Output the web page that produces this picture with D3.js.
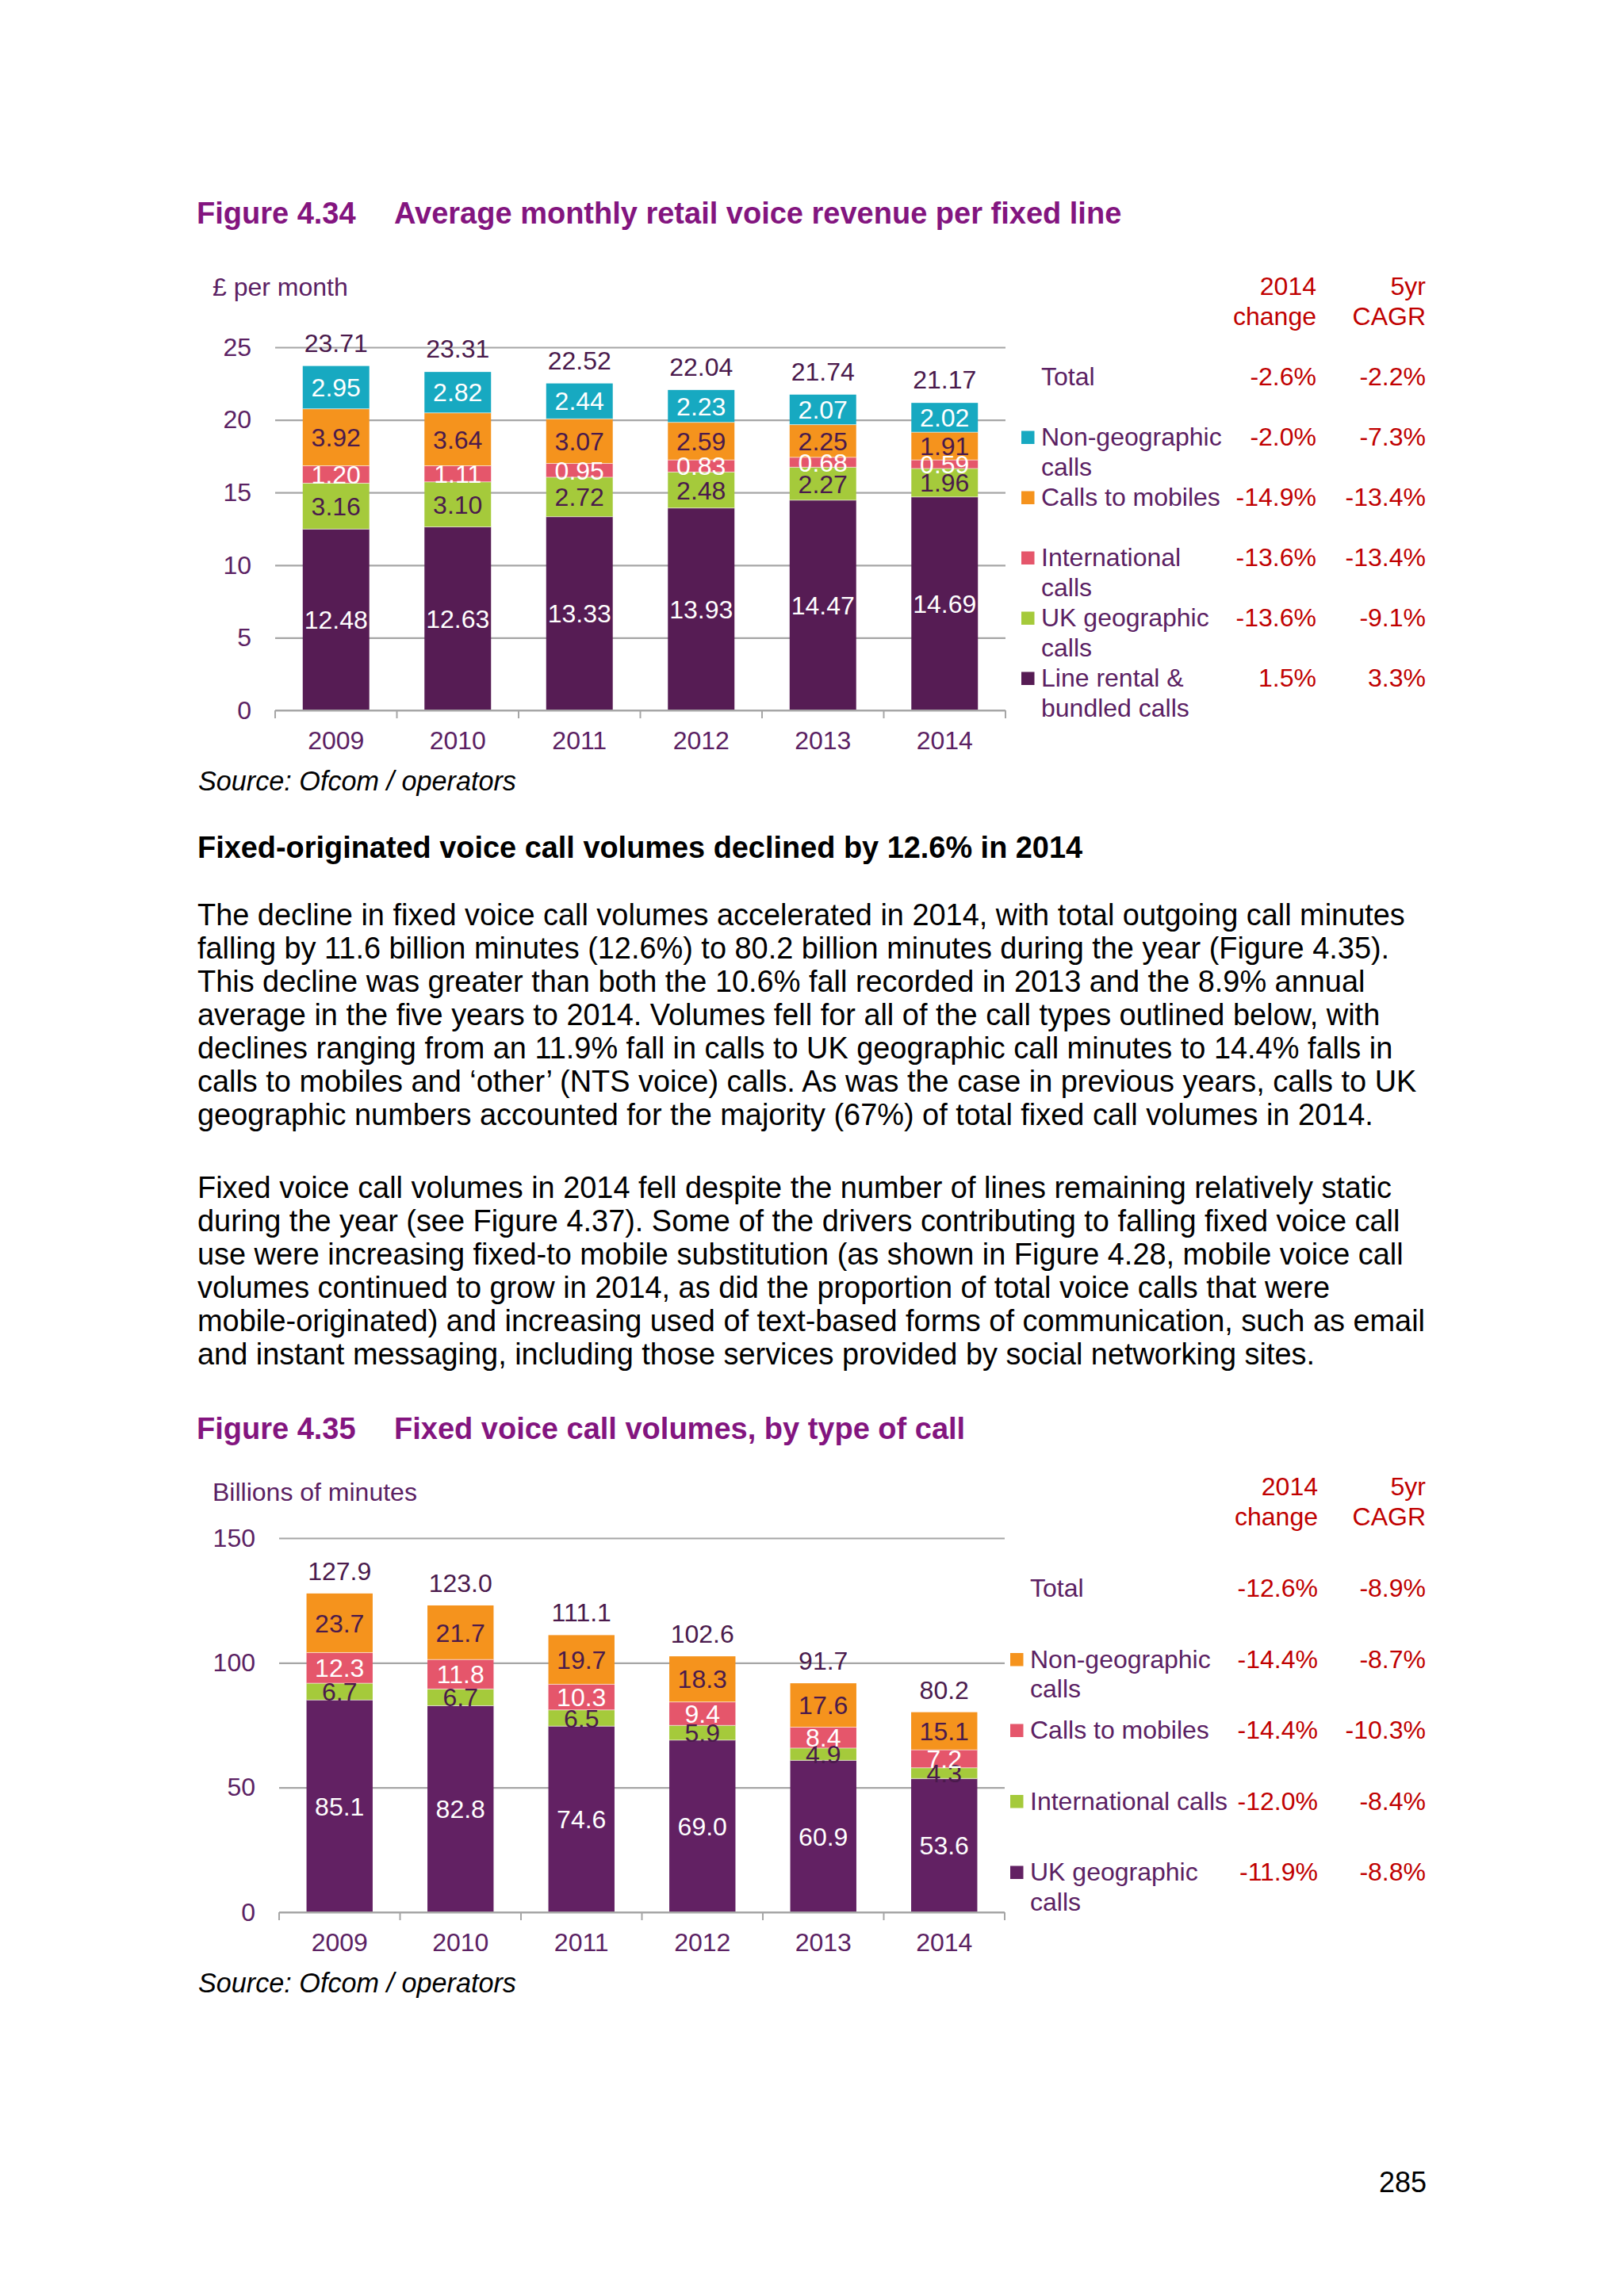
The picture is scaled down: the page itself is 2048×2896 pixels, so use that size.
<!DOCTYPE html>
<html><head><meta charset="utf-8">
<script src="https://cdn.jsdelivr.net/npm/d3@7"></script>
<style>body{margin:0;background:#fff} svg{display:block}</style>
</head><body><svg id="c" width="2048" height="2896"></svg>
<script>
const years = ["2009","2010","2011","2012","2013","2014"];
// Figure 4.34 – £ per month
const revLineRental = [12.48,12.63,13.33,13.93,14.47,14.69];
const revUkGeo      = [3.16,3.10,2.72,2.48,2.27,1.96];
const revIntl       = [1.20,1.11,0.95,0.83,0.68,0.59];
const revMobiles    = [3.92,3.64,3.07,2.59,2.25,1.91];
const revNonGeo     = [2.95,2.82,2.44,2.23,2.07,2.02];
const revTotals     = [23.71,23.31,22.52,22.04,21.74,21.17];
const revTicks      = [0,5,10,15,20,25];
const revLegend     = [["Total"],["Non-geographic","calls"],["Calls to mobiles"],["International","calls"],["UK geographic","calls"],["Line rental &","bundled calls"]];
const revChange     = ["-2.6%","-2.0%","-14.9%","-13.6%","-13.6%","1.5%"];
const revCagr       = ["-2.2%","-7.3%","-13.4%","-13.4%","-9.1%","3.3%"];
// Figure 4.35 – billions of minutes
const volUkGeo   = [85.1,82.8,74.6,69.0,60.9,53.6];
const volIntl    = [6.7,6.7,6.5,5.9,4.9,4.3];
const volMobiles = [12.3,11.8,10.3,9.4,8.4,7.2];
const volNonGeo  = [23.7,21.7,19.7,18.3,17.6,15.1];
const volTotals  = [127.9,123.0,111.1,102.6,91.7,80.2];
const volTicks   = [0,50,100,150];
const volLegend  = [["Total"],["Non-geographic","calls"],["Calls to mobiles"],["International calls"],["UK geographic","calls"]];
const volChange  = ["-12.6%","-14.4%","-14.4%","-12.0%","-11.9%"];
const volCagr    = ["-8.9%","-8.7%","-10.3%","-8.4%","-8.8%"];

const para1 = [
"The decline in fixed voice call volumes accelerated in 2014, with total outgoing call minutes",
"falling by 11.6 billion minutes (12.6%) to 80.2 billion minutes during the year (Figure 4.35).",
"This decline was greater than both the 10.6% fall recorded in 2013 and the 8.9% annual",
"average in the five years to 2014. Volumes fell for all of the call types outlined below, with",
"declines ranging from an 11.9% fall in calls to UK geographic call minutes to 14.4% falls in",
"calls to mobiles and \u2018other\u2019 (NTS voice) calls. As was the case in previous years, calls to UK",
"geographic numbers accounted for the majority (67%) of total fixed call volumes in 2014."];
const para2 = [
"Fixed voice call volumes in 2014 fell despite the number of lines remaining relatively static",
"during the year (see Figure 4.37). Some of the drivers contributing to falling fixed voice call",
"use were increasing fixed-to mobile substitution (as shown in Figure 4.28, mobile voice call",
"volumes continued to grow in 2014, as did the proportion of total voice calls that were",
"mobile-originated) and increasing used of text-based forms of communication, such as email",
"and instant messaging, including those services provided by social networking sites."];

const FONT = "'Liberation Sans', Arial, Helvetica, sans-serif";
const C = {teal:"#17a9c1", orange:"#f5931d", pink:"#e5566b", green:"#a5ca3b", purple1:"#561c54", purple2:"#622163",
           title:"#83157f", text:"#5b2163", red:"#c00000", grid:"#a6a6a6", dark:"#4a1a4c"};

const svg = d3.select("#c").style("font-family", FONT);
svg.append("rect").attr("width",2048).attr("height",2896).attr("fill","#fff");

function title(y, num, txt){
  const g = svg.append("g").attr("font-weight","bold").attr("font-size",38).attr("fill",C.title);
  g.append("text").attr("x",248).attr("y",y).text(num);
  g.append("text").attr("x",497).attr("y",y).text(txt);
}

function chart(o){
  const x = d3.scaleBand().domain(years).range(o.xr).paddingInner(0.453).paddingOuter(0.2265);
  const y = d3.scaleLinear().domain(o.dom).range(o.yr);
  const g = svg.append("g");
  const ya = g.append("g").attr("transform",`translate(${o.xr[0]},0)`)
    .call(d3.axisLeft(y).tickValues(o.ticks).tickSize(-(o.xr[1]-o.xr[0])).tickPadding(30));
  ya.select(".domain").remove();
  ya.selectAll(".tick line").attr("stroke",C.grid).attr("stroke-width",2.2);
  ya.selectAll(".tick text").attr("font-size",32).attr("fill",C.text).attr("font-family",FONT);
  const table = years.map((yr,i)=>{const r={year:yr}; o.series.forEach(s=>r[s.key]=s.values[i]); return r;});
  const stack = d3.stack().keys(o.series.map(s=>s.key))(table);
  stack.forEach((layer,li)=>{
    const s = o.series[li];
    g.append("g").selectAll("rect").data(layer).join("rect")
      .attr("x",d=>x(d.data.year)).attr("width",x.bandwidth())
      .attr("y",d=>y(d[1])).attr("height",d=>y(d[0])-y(d[1]))
      .attr("fill",s.color);
  });
  stack.slice(1).forEach(layer=>{
    g.append("g").selectAll("line").data(layer).join("line")
      .attr("x1",d=>x(d.data.year)).attr("x2",d=>x(d.data.year)+x.bandwidth())
      .attr("y1",d=>y(d[0])).attr("y2",d=>y(d[0]))
      .attr("stroke","#ffffff").attr("stroke-opacity",0.6).attr("stroke-width",1);
  });
  stack.forEach((layer,li)=>{
    const s = o.series[li];
    g.append("g").selectAll("text").data(layer).join("text")
      .attr("x",d=>x(d.data.year)+x.bandwidth()/2).attr("y",d=>(y(d[0])+y(d[1]))/2)
      .attr("dy","0.36em").attr("text-anchor","middle").attr("font-size",32)
      .attr("fill",s.label).text(d=>o.fmt(d.data[s.key]));
  });
  g.append("g").selectAll("text").data(o.totals).join("text")
    .attr("x",(d,i)=>x(years[i])+x.bandwidth()/2).attr("y",(d,i)=>y(d3.sum(o.series,s=>s.values[i]))-o.totOff)
    .attr("text-anchor","middle").attr("font-size",32).attr("fill",C.dark).text(d=>o.fmt(d));
  const y0 = y(0);
  const bounds = years.map(yr=>x(yr)-x.step()*x.paddingInner()/2).concat([o.xr[1]]);
  g.append("line").attr("x1",o.xr[0]).attr("x2",o.xr[1]).attr("y1",y0).attr("y2",y0).attr("stroke",C.grid).attr("stroke-width",2.2);
  g.append("g").selectAll("line").data(bounds).join("line")
    .attr("x1",d=>d).attr("x2",d=>d).attr("y1",y0).attr("y2",y0+10).attr("stroke",C.grid).attr("stroke-width",2);
  const xa = g.append("g").attr("transform",`translate(0,${y0})`).call(d3.axisBottom(x).tickSize(0).tickPadding(26));
  xa.select(".domain").remove();
  xa.selectAll(".tick text").attr("font-size",32).attr("fill",C.text).attr("font-family",FONT);
  g.append("text").attr("x",268).attr("y",o.capY).attr("font-size",32).attr("fill",C.text).text(o.caption);
  g.append("text").attr("x",250).attr("y",o.srcY).attr("font-size",34.2).attr("font-style","italic").attr("fill","#000").text("Source: Ofcom / operators");
}

function legend(o){
  const g = svg.append("g").attr("font-size",32);
  const hdr = [["2014","change",o.rc],["5yr","CAGR",o.rg]];
  hdr.forEach(h=>{
    g.append("text").attr("x",h[2]).attr("y",o.hy).attr("text-anchor","end").attr("fill",C.red).text(h[0]);
    g.append("text").attr("x",h[2]).attr("y",o.hy+38).attr("text-anchor","end").attr("fill",C.red).text(h[1]);
  });
  if(o.clip){
    svg.append("clipPath").attr("id",o.clipId).append("rect").attr("x",o.tx-5).attr("y",o.ry0-60).attr("width",o.clip-o.tx+5).attr("height",o.step*o.labels.length+60);
  }
  o.labels.forEach((lines,i)=>{
    const yb = o.ry0 + i*o.step;
    if(o.colors[i]) g.append("rect").attr("x",o.sx).attr("y",yb-18.5).attr("width",16.5).attr("height",16.5).attr("fill",o.colors[i]);
    const t = g.append("text").attr("x",o.tx).attr("y",yb).attr("fill",C.text);
    if(o.clip && o.clipRows.includes(i)) t.attr("clip-path",`url(#${o.clipId})`);
    lines.forEach((l,j)=>t.append("tspan").attr("x",o.tx).attr("dy",j?37.5:0).text(l));
    g.append("text").attr("x",o.rc).attr("y",yb).attr("text-anchor","end").attr("fill",C.red).text(o.change[i]);
    g.append("text").attr("x",o.rg).attr("y",yb).attr("text-anchor","end").attr("fill",C.red).text(o.cagr[i]);
  });
}

// ---- Figure 4.34
title(282,"Figure 4.34","Average monthly retail voice revenue per fixed line");
chart({xr:[347,1268], yr:[896,438], dom:[0,25], ticks:revTicks, fmt:d3.format(".2f"), totOff:18,
  caption:"\u00a3 per month", capY:373, srcY:997, totals:revTotals,
  series:[
    {key:"lr", values:revLineRental, color:C.purple1, label:"#fff"},
    {key:"uk", values:revUkGeo, color:C.green, label:C.dark},
    {key:"intl", values:revIntl, color:C.pink, label:"#fff"},
    {key:"mob", values:revMobiles, color:C.orange, label:C.dark},
    {key:"ng", values:revNonGeo, color:C.teal, label:"#fff"}]});
legend({sx:1288, tx:1313, rc:1660, rg:1798, hy:372, ry0:486, step:76, labels:revLegend, change:revChange, cagr:revCagr,
  colors:[null,C.teal,C.orange,C.pink,C.green,C.purple1]});

// ---- body text
svg.append("text").attr("x",249).attr("y",1082).attr("font-size",37.9).attr("font-weight","bold").attr("fill","#000")
  .text("Fixed-originated voice call volumes declined by 12.6% in 2014");
const body = svg.append("g").attr("font-size",37.9).attr("fill","#000");
para1.forEach((l,i)=>body.append("text").attr("x",249).attr("y",1167+i*42).text(l));
para2.forEach((l,i)=>body.append("text").attr("x",249).attr("y",1511+i*42).text(l));

// ---- Figure 4.35
title(1815,"Figure 4.35","Fixed voice call volumes, by type of call");
chart({xr:[352,1267], yr:[2412,1940], dom:[0,150], ticks:volTicks, fmt:d3.format(".1f"), totOff:17,
  caption:"Billions of minutes", capY:1893, srcY:2513, totals:volTotals,
  series:[
    {key:"uk", values:volUkGeo, color:C.purple2, label:"#fff"},
    {key:"intl", values:volIntl, color:C.green, label:C.dark},
    {key:"mob", values:volMobiles, color:C.pink, label:"#fff"},
    {key:"ng", values:volNonGeo, color:C.orange, label:C.dark}]});
legend({sx:1274, tx:1299, rc:1662, rg:1798, hy:1886, ry0:2014, step:89.5, labels:volLegend, change:volChange, cagr:volCagr,
  colors:[null,C.orange,C.pink,C.green,C.purple2], clip:1528, clipId:"lgclip", clipRows:[1]});

svg.append("text").attr("x",1799).attr("y",2765).attr("text-anchor","end").attr("font-size",36).attr("fill","#000").text("285");
</script></body></html>
